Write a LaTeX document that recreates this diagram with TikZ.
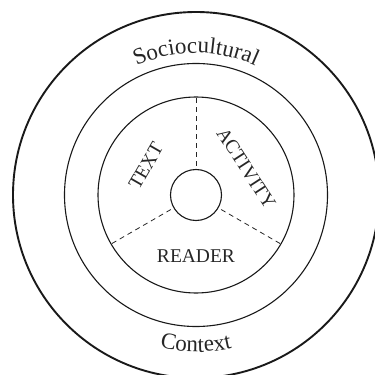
\documentclass[tikz,border=0pt]{standalone}
\usepackage{fontspec}
\setmainfont{Liberation Serif}
\usetikzlibrary{decorations.text}

\newcommand{\arcfont}{\fontsize{23}{26}\selectfont}

\begin{document}
\begin{tikzpicture}[
    x=1pt,
    y=1pt,
    ring/.style={
        circle,
        draw=black!90,
        line width=#1,
        inner sep=0pt
    },
    zone/.style={
        font=\fontsize{19.5}{22}\selectfont,
        text=black!85,
        inner sep=0pt
    },
    split/.style={dash pattern=on 5pt off 4pt, line width=0.8pt, draw=black!85, shorten <=3pt},
    arclabel/.style={
        decorate,
        decoration={text along path, text align=center, text color=black!85, text={|\arcfont|#1}}
    }
]

\useasboundingbox (-196,-180) rectangle (179,195);

\node[ring=1.1pt, minimum size=51pt] (hub) at (0,0) {};
\node[ring=1.1pt, minimum size=196pt] (inner) at (0,0) {};
\node[ring=1.1pt, minimum size=263pt] (middle) at (0,0) {};
\node[ring=1.9pt, minimum size=366pt] (outer) at (0,0) {};

\foreach \a in {90,210,330}
    \draw[split] (hub.\a) -- (inner.\a);

\node[zone, rotate=60] (text) at (150:58) {TEXT};
\node[zone, rotate=-57] (activity) at (28:57) {ACTIVITY};
\node[zone] (reader) at (0,-61) {READER};

\path[arclabel=Sociocultural] (160:142) arc[start angle=160, end angle=20, radius=142];
\path[arclabel=Context] (210:157) arc[start angle=210, end angle=330, radius=157];

\end{tikzpicture}
\end{document}
